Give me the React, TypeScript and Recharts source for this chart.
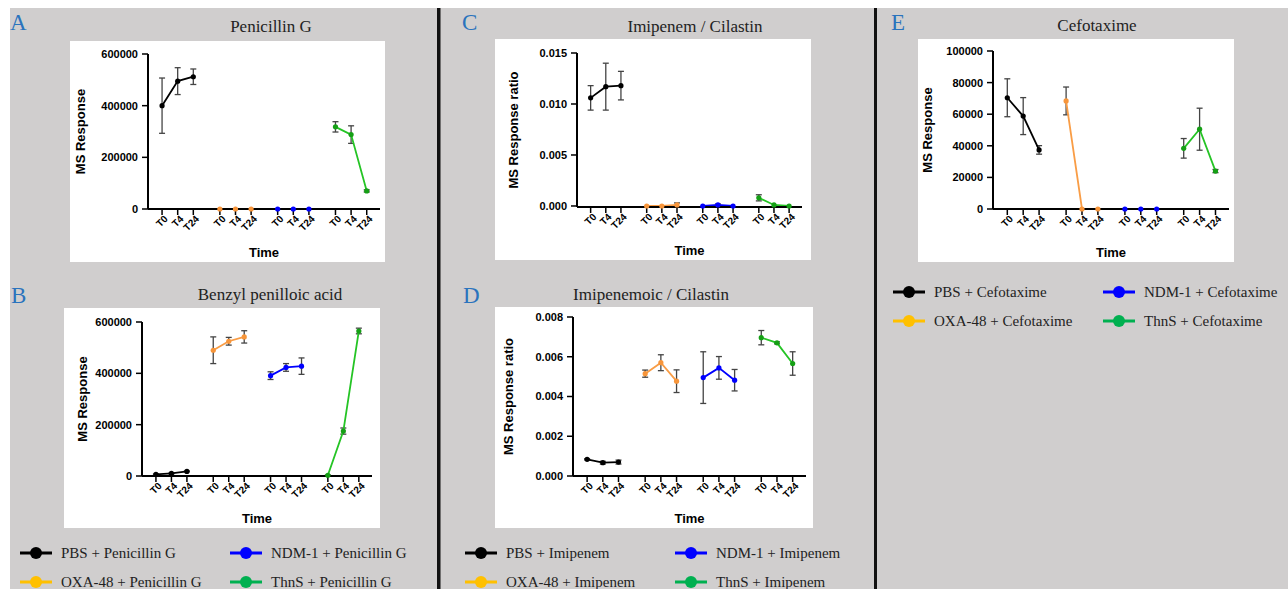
import React from "react";
import { LineChart, Line, XAxis, YAxis, ErrorBar, Label } from "recharts";

const times = ["T0", "T4", "T24"];
const treatments = ["PBS", "OXA-48", "NDM-1", "ThnS"];
const lineColors = ["#000000", "#f99d46", "#0000ff", "#25c425"];
const dotColors = ["#000000", "#f7953a", "#0000ff", "#159f15"];
const legendColors = ["#000000", "#ffc000", "#0000ff", "#00b050"];

// A - Penicillin G
const penicillinMean = [
  [400000, 495000, 512000],
  [0, 0, 0],
  [0, 0, 0],
  [318000, 288000, 70000],
];
const penicillinErr = [
  [107000, 52000, 30000],
  [0, 0, 0],
  [0, 0, 0],
  [20000, 34000, 4000],
];

// B - Benzyl penilloic acid
const penilloicMean = [
  [6000, 10000, 18000],
  [490000, 525000, 542000],
  [391000, 423000, 428000],
  [3000, 175000, 565000],
];
const penilloicErr = [
  [2000, 2000, 1500],
  [52000, 15000, 24000],
  [15000, 15000, 32000],
  [1000, 12000, 11000],
];

// C - Imipenem / Cilastin
const imipenemMean = [
  [0.0106, 0.0117, 0.0118],
  [0, 0, 0.0001],
  [0, 0.0001, 0],
  [0.0008, 0.0001, 0],
];
const imipenemErr = [
  [0.0012, 0.0023, 0.0014],
  [0, 0, 0.0002],
  [0, 0.0001, 0],
  [0.0003, 0, 0],
];

// D - Imipenemoic / Cilastin
const imipenemoicMean = [
  [0.00084, 0.00067, 0.0007],
  [0.00515, 0.0057, 0.00477],
  [0.00495, 0.00544, 0.00482],
  [0.00696, 0.0067, 0.00566],
];
const imipenemoicErr = [
  [0.00003, 0.00007, 0.0001],
  [0.00018, 0.0004, 0.00057],
  [0.0013, 0.00057, 0.00054],
  [0.00036, 0.00005, 0.00059],
];

// E - Cefotaxime
const cefotaximeMean = [
  [70400, 58800, 37400],
  [68400, 0, 0],
  [0, 0, 0],
  [38400, 50500, 24000],
];
const cefotaximeErr = [
  [12000, 11700, 2700],
  [8800, 0, 0],
  [0, 0, 0],
  [6200, 13300, 1000],
];

const GROUP_STRIDE = 3.7;
const SANS = '"Liberation Sans", Arial, sans-serif';
const SERIF = '"Liberation Serif", "Times New Roman", serif';
const BLUE = "#2a73bd";

const tickXs = treatments.flatMap((_, g) => times.map((_, i) => g * GROUP_STRIDE + i));
const xDomain = [-0.9, 3 * GROUP_STRIDE + 2 + 0.85];

function seriesData(means: number[][], errs: number[][], g: number) {
  return times.map((t, i) => ({ x: g * GROUP_STRIDE + i, t, y: means[g][i], e: errs[g][i] }));
}

function TimeTick(props: any) {
  const x = Number(props.x);
  const y = Number(props.y);
  const label = times[Number(props.index) % times.length];
  return (
    <g transform={`translate(${x + 4},${y + 2})`}>
      <text
        x={0}
        y={0}
        dy="0.35em"
        transform="rotate(-45)"
        textAnchor="end"
        fontSize={10}
        fontWeight={700}
        fontFamily={SANS}
        fill="#000"
      >
        {label}
      </text>
    </g>
  );
}

type PanelProps = {
  box: { x: number; y: number; w: number; h: number };
  top: number;
  right: number;
  yWidth: number;
  xHeight: number;
  yLabel: string;
  yLabelOffset: number;
  yTicks: number[];
  fmt: (v: number) => string;
  means: number[][];
  errs: number[][];
};

function Panel(p: PanelProps) {
  const yMax = p.yTicks[p.yTicks.length - 1];
  return (
    <div style={{ position: "absolute", left: p.box.x, top: p.box.y, width: p.box.w, height: p.box.h, background: "#fff" }}>
      <LineChart width={p.box.w} height={p.box.h} margin={{ top: p.top, right: p.right, left: 0, bottom: 0 }}>
        <XAxis
          type="number"
          dataKey="x"
          domain={xDomain}
          ticks={tickXs}
          interval={0}
          tick={TimeTick}
          tickSize={6}
          tickMargin={0}
          height={p.xHeight}
          axisLine={{ stroke: "#000", strokeWidth: 2 }}
          tickLine={{ stroke: "#000", strokeWidth: 1.5 }}
          allowDataOverflow
        >
          <Label
            value="Time"
            position="insideBottom"
            offset={5}
            style={{ fontFamily: SANS, fontSize: 13, fontWeight: 700, fill: "#000" }}
          />
        </XAxis>
        <YAxis
          type="number"
          domain={[0, yMax]}
          ticks={p.yTicks}
          interval={0}
          tickFormatter={p.fmt}
          width={p.yWidth}
          tickSize={6}
          tickMargin={4}
          axisLine={{ stroke: "#000", strokeWidth: 2 }}
          tickLine={{ stroke: "#000", strokeWidth: 1.5 }}
          tick={{ fontFamily: SANS, fontSize: 11, fontWeight: 700, fill: "#000" }}
        >
          <Label
            value={p.yLabel}
            angle={-90}
            position="insideLeft"
            offset={p.yLabelOffset}
            style={{ textAnchor: "middle", fontFamily: SANS, fontSize: 13, fontWeight: 700, fill: "#000" }}
          />
        </YAxis>
        {treatments.map((name, g) => (
          <Line
            key={name}
            data={seriesData(p.means, p.errs, g)}
            dataKey="y"
            stroke={lineColors[g]}
            strokeWidth={1.8}
            dot={{ r: 2.6, fill: dotColors[g], stroke: dotColors[g], strokeWidth: 0 }}
            isAnimationActive={false}
          >
            <ErrorBar dataKey="e" width={3} stroke="#444" strokeWidth={1.3} direction="y" />
          </Line>
        ))}
      </LineChart>
    </div>
  );
}

function Legend({ x, y, drug }: { x: number; y: number; drug: string }) {
  const order = [0, 2, 1, 3];
  return (
    <>
      {order.map((g, k) => {
        const cx = x + (k % 2) * 210;
        const cy = y + Math.floor(k / 2) * 29;
        return (
          <g key={g}>
            <line x1={cx} y1={cy} x2={cx + 32} y2={cy} stroke={legendColors[g]} strokeWidth={3} />
            <circle cx={cx + 16} cy={cy} r={6} fill={legendColors[g]} />
            <text x={cx + 41} y={cy + 5} fontFamily={SERIF} fontSize={15} fill="#222">
              {`${treatments[g]} + ${drug}`}
            </text>
          </g>
        );
      })}
    </>
  );
}

const titles = [
  { letter: "A", lx: 10, ly: 30, title: "Penicillin G", tx: 271, ty: 32 },
  { letter: "B", lx: 11, ly: 303, title: "Benzyl penilloic acid", tx: 270, ty: 300 },
  { letter: "C", lx: 462, ly: 30, title: "Imipenem / Cilastin", tx: 695, ty: 32 },
  { letter: "D", lx: 463, ly: 303, title: "Imipenemoic / Cilastin", tx: 651, ty: 300 },
  { letter: "E", lx: 891, ly: 30, title: "Cefotaxime", tx: 1097, ty: 31 },
];

const fmtInt = (v: number) => String(v);
const fmt3 = (v: number) => v.toFixed(3);

export default function App() {
  return (
    <div style={{ position: "absolute", left: 0, top: 0, width: 1288, height: 589, background: "#fff", overflow: "hidden" }}>
      <svg width={1288} height={589} style={{ position: "absolute", left: 0, top: 0 }}>
        <rect x={10} y={8} width={1278} height={581} fill="#d0cece" />
        <rect x={437} y={8} width={3.5} height={581} fill="#111" />
        <rect x={874} y={8} width={3} height={581} fill="#111" />
        {titles.map((t) => (
          <g key={t.letter}>
            <text x={t.lx} y={t.ly} fontFamily={SERIF} fontSize={23} fill={BLUE}>
              {t.letter}
            </text>
            <text x={t.tx} y={t.ty} textAnchor="middle" fontFamily={SERIF} fontSize={17} fill="#222">
              {t.title}
            </text>
          </g>
        ))}
        <Legend x={20} y={553} drug="Penicillin G" />
        <Legend x={465} y={553} drug="Imipenem" />
        <Legend x={893} y={292} drug="Cefotaxime" />
      </svg>
      <Panel
        box={{ x: 70, y: 41, w: 315, h: 221 }}
        top={13}
        right={5}
        yWidth={78}
        xHeight={53}
        yLabel="MS Response"
        yLabelOffset={10}
        yTicks={[0, 200000, 400000, 600000]}
        fmt={fmtInt}
        means={penicillinMean}
        errs={penicillinErr}
      />
      <Panel
        box={{ x: 64, y: 308, w: 316, h: 220 }}
        top={14}
        right={8}
        yWidth={78}
        xHeight={52}
        yLabel="MS Response"
        yLabelOffset={18}
        yTicks={[0, 200000, 400000, 600000]}
        fmt={fmtInt}
        means={penilloicMean}
        errs={penilloicErr}
      />
      <Panel
        box={{ x: 495, y: 39, w: 316, h: 221 }}
        top={14}
        right={9}
        yWidth={82}
        xHeight={53}
        yLabel="MS Response ratio"
        yLabelOffset={18}
        yTicks={[0, 0.005, 0.01, 0.015]}
        fmt={fmt3}
        means={imipenemMean}
        errs={imipenemErr}
      />
      <Panel
        box={{ x: 495, y: 307, w: 318, h: 221 }}
        top={10}
        right={7}
        yWidth={78}
        xHeight={52}
        yLabel="MS Response ratio"
        yLabelOffset={13}
        yTicks={[0, 0.002, 0.004, 0.006, 0.008]}
        fmt={fmt3}
        means={imipenemoicMean}
        errs={imipenemoicErr}
      />
      <Panel
        box={{ x: 918, y: 39, w: 316, h: 223 }}
        top={12}
        right={5}
        yWidth={75}
        xHeight={53}
        yLabel="MS Response"
        yLabelOffset={9}
        yTicks={[0, 20000, 40000, 60000, 80000, 100000]}
        fmt={fmtInt}
        means={cefotaximeMean}
        errs={cefotaximeErr}
      />
    </div>
  );
}
